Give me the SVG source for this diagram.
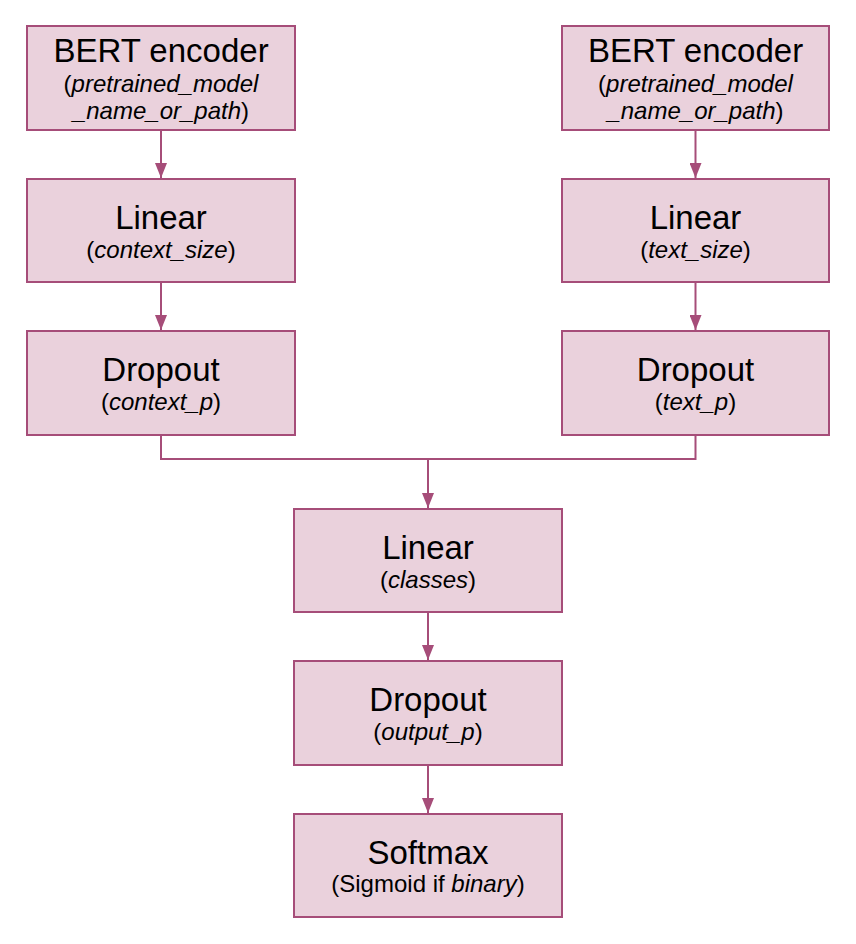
<svg xmlns="http://www.w3.org/2000/svg" width="856" height="944" viewBox="0 0 856 944">
<style>
.box{fill:#EAD1DC;stroke:#A64D79;stroke-width:2}
.t{font-family:"Liberation Sans",Arial,sans-serif;font-size:33px;fill:#000;text-anchor:middle}
.s{font-family:"Liberation Sans",Arial,sans-serif;font-size:24px;fill:#000;text-anchor:middle}
.i{font-style:italic}
.c{fill:none;stroke:#A64D79;stroke-width:2}
</style>
<defs>
<marker id="arr" markerWidth="15" markerHeight="12" refX="15" refY="6" orient="auto" markerUnits="userSpaceOnUse" viewBox="0 0 15 12">
<path d="M0,0 L15,6 L0,12 Z" fill="#A64D79"/>
</marker>
</defs>
<g id="connectors">
<path class="c" d="M161,130 V178" marker-end="url(#arr)"/>
<path class="c" d="M161,282 V330" marker-end="url(#arr)"/>
<path class="c" d="M695.5,130 V178" marker-end="url(#arr)"/>
<path class="c" d="M695.5,282 V330" marker-end="url(#arr)"/>
<path class="c" d="M161,435 V459 H695.5 V435"/>
<path class="c" d="M428,459 V508" marker-end="url(#arr)"/>
<path class="c" d="M428,612 V660" marker-end="url(#arr)"/>
<path class="c" d="M428,765 V813" marker-end="url(#arr)"/>
</g>
<g id="bert_left">
<rect class="box" x="27" y="26" width="268" height="104"/>
<text class="t" x="161" y="62">BERT encoder</text>
<text class="s" x="161" y="92">(<tspan class="i">pretrained_model</tspan></text>
<text class="s" x="161" y="119"><tspan class="i">_name_or_path</tspan>)</text>
</g>
<g id="bert_right">
<rect class="box" x="562" y="26" width="267" height="104"/>
<text class="t" x="695.5" y="62">BERT encoder</text>
<text class="s" x="695.5" y="92">(<tspan class="i">pretrained_model</tspan></text>
<text class="s" x="695.5" y="119"><tspan class="i">_name_or_path</tspan>)</text>
</g>
<g id="linear_left">
<rect class="box" x="27" y="179" width="268" height="103"/>
<text class="t" x="161" y="229">Linear</text>
<text class="s" x="161" y="258">(<tspan class="i">context_size</tspan>)</text>
</g>
<g id="linear_right">
<rect class="box" x="562" y="179" width="267" height="103"/>
<text class="t" x="695.5" y="229">Linear</text>
<text class="s" x="695.5" y="258">(<tspan class="i">text_size</tspan>)</text>
</g>
<g id="dropout_left">
<rect class="box" x="27" y="331" width="268" height="104"/>
<text class="t" x="161" y="381">Dropout</text>
<text class="s" x="161" y="410">(<tspan class="i">context_p</tspan>)</text>
</g>
<g id="dropout_right">
<rect class="box" x="562" y="331" width="267" height="104"/>
<text class="t" x="695.5" y="381">Dropout</text>
<text class="s" x="695.5" y="410">(<tspan class="i">text_p</tspan>)</text>
</g>
<g id="linear_classes">
<rect class="box" x="294" y="509" width="268" height="103"/>
<text class="t" x="428" y="559">Linear</text>
<text class="s" x="428" y="588">(<tspan class="i">classes</tspan>)</text>
</g>
<g id="dropout_output">
<rect class="box" x="294" y="661" width="268" height="104"/>
<text class="t" x="428" y="711">Dropout</text>
<text class="s" x="428" y="740">(<tspan class="i">output_p</tspan>)</text>
</g>
<g id="softmax">
<rect class="box" x="294" y="814" width="268" height="103"/>
<text class="t" x="428" y="864">Softmax</text>
<text class="s" x="428" y="892">(Sigmoid if <tspan class="i">binary</tspan>)</text>
</g>
</svg>
